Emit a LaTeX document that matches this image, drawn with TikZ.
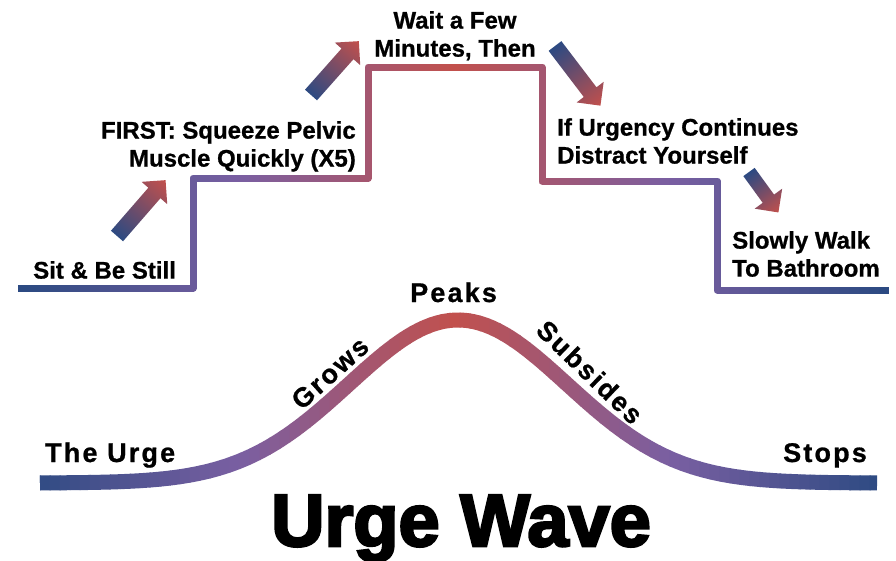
\documentclass[tikz,border=0pt]{standalone}
\usepackage{fontspec}
\setmainfont{Liberation Sans}[BoldFeatures={FakeBold=0.8}]
\newfontfamily\spacedfont[LetterSpace=8,BoldFeatures={FakeBold=0.8}]{Liberation Sans}
\newfontfamily\titlefont[FakeBold=3.5]{Liberation Sans Bold}
\usepackage{tikz}
\usetikzlibrary{positioning}
\definecolor{UrgeBlue}{HTML}{2C4A82}
\definecolor{UrgePurple}{HTML}{7A5FA2}
\definecolor{UrgeRed}{HTML}{C2504C}

% fat gradient arrow: [shaft half width] tail centre, angle, length
\newcommand{\urgearrow}[4][8]{%
  \begin{scope}[transform canvas={shift={#2},rotate=#3}]
    \shade[arrowfill] (0,-#1) -- (#4-17,-#1) -- (#4-17,-17) -- (#4,0)
      -- (#4-17,17) -- (#4-17,#1) -- (0,#1) -- cycle;
  \end{scope}}

\def\stairpath{(18,288) -- (193,288) -- (193,178) -- (368,178) -- (368,67)
  -- (542,67) -- (542,181) -- (717,181) -- (717,290) -- (889,290)}
\def\wavepath{plot[domain=40:877,samples=140] (\x,{483-163*exp(-0.5*((\x-458)/109)^2)})}

\begin{document}
\begin{tikzpicture}[x=1pt,y=-1pt,
  stairline/.style={line width=7pt,line join=round},
  waveline/.style={line width=15pt},
  steplabel/.style={font=\bfseries\fontsize{24}{28}\selectfont,inner sep=0pt},
  wavelabel/.style={font=\spacedfont\bfseries\fontsize{27}{30}\selectfont,inner sep=0pt},
  arrowfill/.style={left color=UrgeBlue,middle color=UrgePurple,right color=UrgeRed}]
  \useasboundingbox[fill=white] (0,0) rectangle (896,560);

  % both lines coloured strip by strip: blue at the ends, red at the middle
  \foreach \i in {0,...,89}{
    \pgfmathsetmacro{\xa}{10*\i}
    \pgfmathsetmacro{\tval}{max(0,1-abs(\xa+5-455)/430)}
    \pgfmathtruncatemacro{\mixA}{min(100,200*\tval)}
    \pgfmathtruncatemacro{\mixB}{max(0,200*\tval-100)}
    \colorlet{stripLo}{UrgePurple!\mixA!UrgeBlue}
    \colorlet{stripCol}{UrgeRed!\mixB!stripLo}
    \begin{scope}
      \clip (\xa-0.5,-10) rectangle (\xa+10.5,570);
      \draw[stairline,stripCol] \stairpath;
      \draw[waveline,stripCol] \wavepath;
    \end{scope}
  }

  \urgearrow{(117,236)}{49}{74}
  \urgearrow{(311,95)}{48.4}{72}
  \urgearrow{(555,46)}{-52.7}{75}
  \urgearrow[7]{(749,172)}{-54}{50}

  \node[steplabel,anchor=north west] (sit) at (33,261) {Sit \& Be Still};
  \node[steplabel,anchor=north east,align=right] (squeeze) at (356,121)
    {FIRST: Squeeze Pelvic\\Muscle Quickly (X5)};
  \node[steplabel,anchor=north,align=center] (wait) at (455,11)
    {Wait a Few\\Minutes, Then};
  \node[steplabel,anchor=north west,align=left] (distract) at (557,118)
    {If Urgency Continues\\Distract Yourself};
  \node[steplabel,anchor=north west,align=left] (walk) at (732,231)
    {Slowly Walk\\To Bathroom};

  \node[wavelabel,anchor=base west] (urge) at (45,462) {The Urge};
  \node[wavelabel,rotate=42] (grows) at (330,373) {Grows};
  \node[wavelabel,anchor=base west] (peaks) at (410,302) {Peaks};
  \node[wavelabel,rotate=-44] (subsides) at (590,372) {Subsides};
  \node[wavelabel,anchor=base west] (stops) at (783,462) {Stops};

  \node[font=\titlefont\fontsize{74}{80}\selectfont,inner sep=0pt,anchor=base] (title)
    at (461,546) {Urge Wave};
\end{tikzpicture}
\end{document}
